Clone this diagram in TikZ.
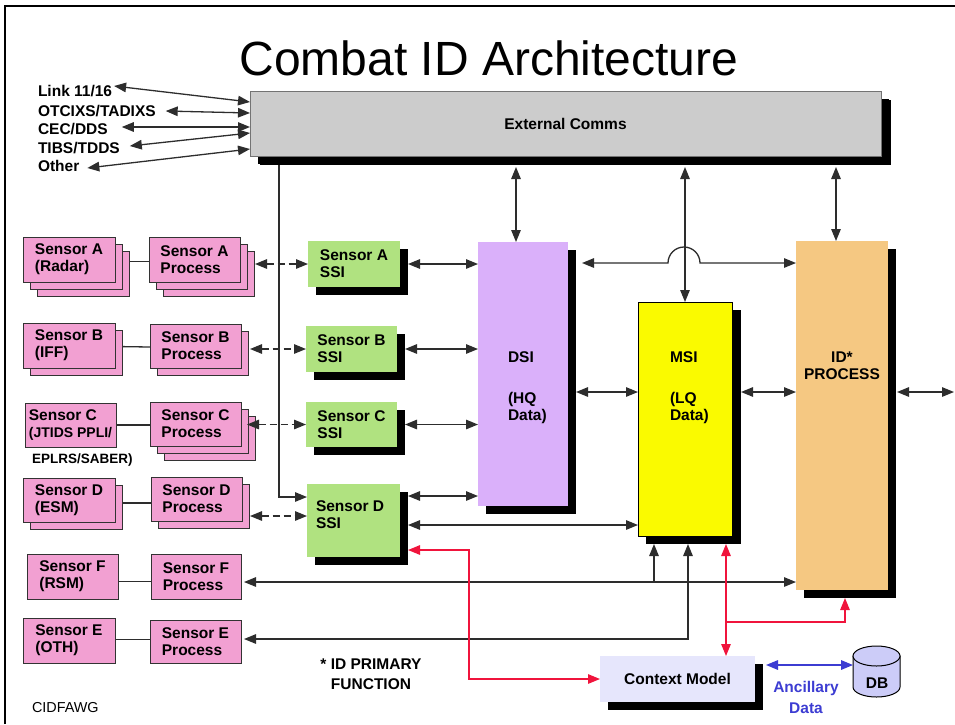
\documentclass[tikz,border=0pt]{standalone}
\usepackage{fontspec}
\setmainfont{Liberation Sans}
\usetikzlibrary{arrows.meta,shadows,backgrounds}

\definecolor{pinkfill}{RGB}{242,160,210}
\definecolor{ssigreen}{RGB}{176,226,128}
\definecolor{dsiviolet}{RGB}{218,176,250}
\definecolor{msiyellow}{RGB}{250,250,0}
\definecolor{idorange}{RGB}{245,200,130}
\definecolor{commsgray}{RGB}{204,204,204}
\definecolor{ctxlav}{RGB}{230,230,252}
\definecolor{dblav}{RGB}{204,204,248}
\definecolor{ancblue}{RGB}{60,60,210}
\definecolor{linkred}{RGB}{240,20,60}
\definecolor{wire}{RGB}{45,45,45}

\tikzset{
  every node/.style={font=\bfseries\fontsize{15.5}{17}\selectfont, inner sep=0pt, outer sep=0pt},
  >={Triangle[length=12pt,width=9.5pt]},
  wireline/.style={draw=wire, line width=1.3pt},
  dbl/.style={wireline, <->},
  onearrow/.style={wireline, ->},
  redline/.style={draw=linkred, line width=1.3pt},
  blueline/.style={draw=ancblue, line width=1.6pt},
  pinkbox/.style={draw=black!80, line width=1pt, fill=pinkfill, anchor=north west, align=left},
  stacktwo/.style={general shadow={shadow xshift=7pt, shadow yshift=-7pt, draw=black!80, line width=1pt, fill=pinkfill}},
  stackthree/.style={
    general shadow={shadow xshift=14pt, shadow yshift=-14pt, draw=black!80, line width=1pt, fill=pinkfill},
    general shadow={shadow xshift=7pt, shadow yshift=-7pt, draw=black!80, line width=1pt, fill=pinkfill}},
  shadowed/.style={general shadow={fill=black, shadow xshift=8pt, shadow yshift=-8pt, #1}},
  shadowed/.default={},
  ssibox/.style={fill=ssigreen, shadowed, anchor=north west, align=left},
  bigbox/.style={shadowed, anchor=north west},
}

\begin{document}
\begin{tikzpicture}[x=1pt, y=-1pt]
\useasboundingbox (0,0) rectangle (955,724);

% page frame
\draw[line width=2pt] (5,724) -- (5,6) -- (955,6);

% title
\node[font=\fontsize{48}{50}\selectfont, anchor=base] (title) at (489,75) {Combat ID Architecture};

% external comms bar
\node[bigbox, shadowed={shadow xshift=10pt, shadow yshift=-9pt}, fill=commsgray, draw=black!55, line width=1pt,
      minimum width=631pt, minimum height=65pt] (comms) at (250,91) {External Comms};

% link labels
\node[anchor=west] (lk)   at (38,91)  {Link 11/16};
\node[anchor=west] (ot)   at (38,111) {OTCIXS/TADIXS};
\node[anchor=west] (cec)  at (38,129) {CEC/DDS};
\node[anchor=west] (tibs) at (38,148) {TIBS/TDDS};
\node[anchor=west] (oth)  at (38,166) {Other};

% sensors
\node[pinkbox, stackthree, minimum width=92pt, minimum height=45pt] (sa)  at (23,237)  {Sensor A\\(Radar)};
\node[pinkbox, stackthree, minimum width=91pt, minimum height=45pt] (sap) at (149,237) {Sensor A\\Process};
\node[pinkbox, stacktwo,   minimum width=92pt, minimum height=45pt] (sb)  at (23,323)  {Sensor B\\(IFF)};
\node[pinkbox, stacktwo,   minimum width=91pt, minimum height=44pt] (sbp) at (150,324) {Sensor B\\Process};
\node[pinkbox,             minimum width=91pt, minimum height=44pt] (sc)  at (25,403)  {Sensor C\\{\fontsize{14}{15}\selectfont (JTIDS PPLI/}};
\node[pinkbox, stackthree, minimum width=91pt, minimum height=44pt] (scp) at (150,402) {Sensor C\\Process};
\node[pinkbox, stacktwo,   minimum width=92pt, minimum height=44pt] (sd)  at (23,478)  {Sensor D\\(ESM)};
\node[pinkbox, stacktwo,   minimum width=91pt, minimum height=44pt] (sdp) at (151,477) {Sensor D\\Process};
\node[pinkbox,             minimum width=91pt, minimum height=45pt] (sf)  at (27,554)  {Sensor F\\(RSM)};
\node[pinkbox,             minimum width=90pt, minimum height=45pt] (sfp) at (151,554) {Sensor F\\Process};
\node[pinkbox,             minimum width=92pt, minimum height=45pt] (se)  at (23,618)  {Sensor E\\(OTH)};
\node[pinkbox,             minimum width=91pt, minimum height=43pt] (sep) at (150,620) {Sensor E\\Process};
\node[anchor=west, font=\bfseries\fontsize{13.5}{15}\selectfont] (eplrs) at (32,460) {EPLRS/SABER)};

% sensor-to-process links, kept behind the stacked boxes
\begin{scope}[on background layer]
  \draw[wireline] ([yshift=-2pt]sa.east) -- ([yshift=-2pt]sap.west);
  \draw[wireline] ([yshift=-1pt]sb.east) -- ([yshift=-1pt]sbp.west);
  \draw[wireline] (sc.east) -- (sc.east -| scp.west);
  \draw[wireline] ([yshift=-3pt]sd.east) -- ([yshift=-3pt]sd.east -| sdp.west);
  \draw[wireline] ([yshift=-5pt]sf.east) -- ([yshift=-5pt]sfp.west);
  \draw[wireline] ([yshift=1pt]se.east) -- ([yshift=1pt]se.east -| sep.west);
\end{scope}

% single-sensor integration boxes
\node[ssibox, minimum width=92pt, minimum height=46pt] (ssa) at (308,241) {Sensor A\\SSI};
\node[ssibox, minimum width=91pt, minimum height=46pt] (ssb) at (306,326) {Sensor B\\SSI};
\node[ssibox, minimum width=91pt, minimum height=45pt] (ssc) at (306,402) {Sensor C\\SSI};
\node[ssibox, minimum width=93pt, minimum height=73pt] (ssd) at (307,484) {};
\node[anchor=north west, align=left] (ssdtxt) at (316,501) {Sensor D\\SSI};

% fusion columns
\node[bigbox, fill=dsiviolet, minimum width=90pt, minimum height=264pt] (dsi) at (478,242) {};
\node[anchor=north west, align=left] (dsitxt) at (508,351.5) {DSI\\[24pt](HQ\\Data)};
\node[bigbox, shadowed={shadow xshift=9pt}, fill=msiyellow, draw=black, line width=1pt,
      minimum width=94pt, minimum height=234pt] (msi) at (638,302) {};
\node[anchor=north west, align=left] (msitxt) at (670,351.5) {MSI\\[24pt](LQ\\Data)};
\node[bigbox, fill=idorange, minimum width=92pt, minimum height=349pt] (id) at (796,241) {};
\node[anchor=north, align=center] (idtxt) at (842,351.5) {ID*\\PROCESS};

% context model and database
\node[bigbox, fill=ctxlav, minimum width=155pt, minimum height=46pt] (ctx) at (600,656) {Context Model};
\node[minimum width=47pt, minimum height=51pt] (db) at (876.5,671.5) {};
\filldraw[fill=dblav, draw=black, line width=1pt]
  (853,656) -- (853,687) arc[start angle=180, end angle=0, x radius=23.5, y radius=10] -- (900,656) -- cycle;
\filldraw[fill=dblav, draw=black, line width=1pt] (876.5,656) ellipse [x radius=23.5, y radius=10];
\node (dbtxt) at (877,683) {DB};

% footnotes
\node[align=center] (note) at (371,674) {* ID PRIMARY\\[3pt]FUNCTION};
\node[align=center, text=ancblue] (anc) at (806,697) {Ancillary\\[4pt]Data};
\node[anchor=west, font=\fontsize{14.4}{16}\selectfont] (cid) at (32,708) {CIDFAWG};

% external links into the comms bar
\draw[dbl] ([xshift=2pt,yshift=5pt]lk.east)  -- ([yshift=-11pt]comms.north west);
\draw[dbl] ([xshift=10pt]ot.east)            -- ([yshift=-22pt]comms.north west);
\draw[dbl] ([xshift=14pt,yshift=2pt]cec.east) -- ([yshift=-36pt]comms.north west);
\draw[dbl] ([xshift=10pt,yshift=2pt]tibs.east) -- ([yshift=-42pt]comms.north west);
\draw[dbl] ([xshift=8pt,yshift=-2pt]oth.east) -- ([yshift=-58pt]comms.north west);

% process to SSI
\coordinate (dIn) at ([yshift=-32pt]ssd.north west);
\draw[dbl, dash pattern=on 7pt off 4pt] ([xshift=15pt]sap.east |- ssa.west) -- (ssa.west);
\draw[dbl, dash pattern=on 7pt off 4pt] ([xshift=9pt]sbp.east |- ssb.west) -- (ssb.west);
\draw[dbl, dash pattern=on 7pt off 4pt] ([xshift=6pt]scp.east |- ssc.west) -- (ssc.west);
\draw[dbl, dash pattern=on 7pt off 4pt] ([xshift=8pt]sdp.east |- dIn) -- (dIn);

% comms feed down to sensor D SSI
\coordinate (dTop) at ([yshift=-13pt]ssd.north west);
\draw[onearrow] ([xshift=29pt,yshift=-9pt]comms.south west) |- (dTop);

% SSI to DSI / MSI
\draw[dbl] ([xshift=8pt]ssa.east) -- (ssa.east -| dsi.west);
\draw[dbl] ([xshift=8pt]ssb.east) -- (ssb.east -| dsi.west);
\draw[dbl] ([xshift=8pt]ssc.east) -- (ssc.east -| dsi.west);
\coordinate (dOut) at ([xshift=8pt,yshift=-12pt]ssd.north east);
\draw[dbl] (dOut) -- (dOut -| dsi.west);
\coordinate (dMsi) at ([xshift=8pt,yshift=-41pt]ssd.north east);
\draw[dbl] (dMsi) -- (dMsi -| msi.west);

% comms to fusion columns
\coordinate (cb) at ([yshift=-11pt]comms.south);
\coordinate (dsiTop) at ([xshift=-7pt]dsi.north);
\coordinate (idTop) at ([xshift=-6pt]id.north);
\draw[dbl] (dsiTop |- cb) -- (dsiTop);
\draw[dbl] (msi.north |- cb) -- (msi.north);
\draw[dbl] (idTop |- cb) -- (idTop);

% DSI to ID, hopping over the MSI feed
\coordinate (hopL) at (668,263);
\draw[dbl] ([xshift=14pt]dsi.east |- hopL) -- (hopL) arc[start angle=180, end angle=360, radius=16] -- (hopL -| id.west);

% middle row
\coordinate (mid) at (0,392);
\coordinate (outR) at (954,392);
\draw[dbl] ([xshift=8pt]dsi.east |- mid) -- (msi.west |- mid);
\draw[dbl] ([xshift=9pt]msi.east |- mid) -- (id.west |- mid);
\draw[dbl] ([xshift=9pt]id.east |- mid) -- (outR);

% sensor F and E feeds
\coordinate (msiS) at ([yshift=-8pt]msi.south);
\coordinate (fRow) at (0,582);
\coordinate (fJoin) at (654,582);
\coordinate (eJoin) at (688,639);
\draw[dbl] ([xshift=3pt]sfp.east |- fRow) -- (fRow -| id.west);
\draw[onearrow] (fJoin) -- (fJoin |- msiS);
\draw[dbl] ([xshift=3pt]sep.east |- eJoin) -- (eJoin) -- (eJoin |- msiS);

% context model links
\coordinate (rX) at (726,622);
\coordinate (rUp) at (845,0);
\coordinate (idS) at ([yshift=-8pt]id.south);
\coordinate (rBend) at (469,0);
\coordinate (ssdR) at ([xshift=8pt,yshift=7pt]ssd.south east);
\draw[redline, <->] (rX |- msiS) -- (rX |- ctx.north);
\draw[redline, ->] (rX) -| (rUp |- idS);
\draw[redline, <->] (ssdR) -| (rBend |- ctx.west) -- (ctx.west);

% ancillary data
\coordinate (ancL) at ([xshift=11pt,yshift=14pt]ctx.east);
\draw[blueline, <->] (ancL) -- (ancL -| db.west);
\end{tikzpicture}
\end{document}
